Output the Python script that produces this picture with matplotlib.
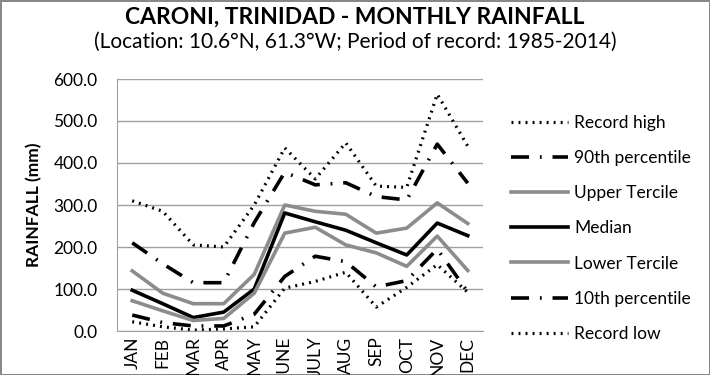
import matplotlib.pyplot as plt
import numpy as np

plt.rcParams['font.family'] = ['Lato', 'DejaVu Sans']

months = ["JAN", "FEB", "MAR", "APR", "MAY", "JUNE", "JULY", "AUG", "SEP", "OCT", "NOV", "DEC"]
record_high = [310, 285, 205, 200, 300, 436, 362, 448, 345, 342, 564, 440]
p90 = [210, 160, 115, 115, 258, 378, 348, 353, 320, 312, 445, 352]
upper_tercile = [143, 90, 65, 65, 135, 300, 285, 278, 233, 245, 305, 256]
median = [97, 65, 32, 45, 100, 281, 260, 240, 210, 181, 257, 227]
lower_tercile = [72, 48, 25, 30, 90, 233, 247, 205, 186, 154, 226, 144]
p10 = [38, 20, 12, 12, 40, 130, 178, 165, 105, 120, 195, 93]
record_low = [22, 10, 2, 5, 10, 102, 118, 140, 57, 104, 158, 92]

fig = plt.figure(figsize=(7.1, 3.75), dpi=100)
fig.patch.set_edgecolor('#888888')
fig.patch.set_linewidth(2)
ax = fig.add_axes([117 / 710, 44 / 375, 366 / 710, 252 / 375])

x = np.arange(len(months))
dashdot = (0, (5, 3, 0.5, 3))
dots = (0, (0.6, 1.6))
gray = '#8c8c8c'
ax.plot(x, record_high, color='black', lw=2.3, ls=dots, label='Record high')
ax.plot(x, p90, color='black', lw=2.6, ls=dashdot, label='90th percentile')
ax.plot(x, upper_tercile, color=gray, lw=2.6, label='Upper Tercile')
ax.plot(x, median, color='black', lw=2.6, label='Median')
ax.plot(x, lower_tercile, color=gray, lw=2.6, label='Lower Tercile')
ax.plot(x, p10, color='black', lw=2.6, ls=dashdot, label='10th percentile')
ax.plot(x, record_low, color='black', lw=2.3, ls=dots, label='Record low')

ax.set_xlim(-0.5, 11.5)
ax.set_ylim(0, 600)
ax.set_yticks(np.arange(0, 601, 100))
ax.set_yticklabels([f"{v:.1f}" for v in np.arange(0, 601, 100)], fontsize=12.5)
ax.set_xticks(x)
ax.set_xticklabels(months, rotation=90, fontsize=12.5)
ax.tick_params(axis='y', length=0, pad=14)
ax.tick_params(axis='x', length=0, pad=4)
ax.grid(axis='y', color='#a0a0a0', lw=1)
ax.set_axisbelow(True)
for s in ['top', 'right']:
    ax.spines[s].set_visible(False)
for s in ['left', 'bottom']:
    ax.spines[s].set_color('#a0a0a0')
ax.set_ylabel('RAINFALL (mm)', fontsize=12.5, fontweight='bold', labelpad=8)

fig.text(0.5, 0.955, 'CARONI, TRINIDAD - MONTHLY RAINFALL', ha='center', va='center',
         fontsize=16.5, fontweight='bold')
fig.text(0.5, 0.888, '(Location: 10.6°N, 61.3°W; Period of record: 1985-2014)',
         ha='center', va='center', fontsize=15)

ax.legend(loc='upper left', bbox_to_anchor=(502 / 710, 0.716), bbox_transform=fig.transFigure,
          frameon=False, fontsize=12.5, handlelength=3.3, handletextpad=0.35, labelspacing=1.1,
          borderpad=0)

fig.savefig('out.png', dpi=100)
